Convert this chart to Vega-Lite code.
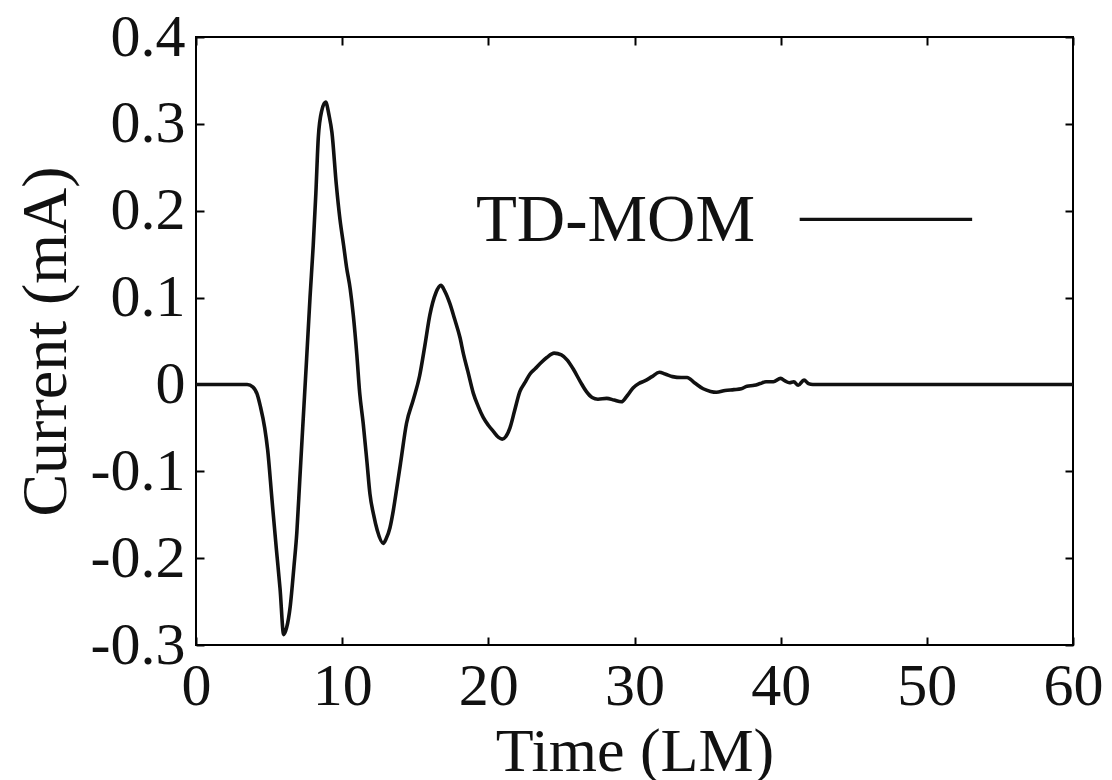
{
  "$schema": "https://vega.github.io/schema/vega-lite/v6.json",
  "width": 877,
  "height": 608,
  "autosize": {"type": "none"},
  "padding": {"left": 196, "top": 37, "right": 39, "bottom": 135},
  "background": "white",
  "config": {
    "view": {"stroke": "black", "strokeWidth": 2},
    "font": "Liberation Serif",
    "axis": {
      "domain": false, "grid": false, "tickColor": "black", "tickWidth": 2, "tickSize": -8,
      "labelFont": "Liberation Serif", "labelFontSize": 60, "labelColor": "#111",
      "titleFont": "Liberation Serif", "titleFontSize": 63, "titleFontWeight": "normal", "titleColor": "#111"
    }
  },
  "datasets": {
    "curve": [
      {"t": 0, "v": 0}, {"t": 3.5, "v": 0}, {"t": 3.9, "v": -0.003}, {"t": 4.2, "v": -0.012},
      {"t": 4.4, "v": -0.025}, {"t": 4.7, "v": -0.05}, {"t": 4.9, "v": -0.075}, {"t": 5.2, "v": -0.133},
      {"t": 5.5, "v": -0.19}, {"t": 5.75, "v": -0.235}, {"t": 6.0, "v": -0.288}, {"t": 6.2, "v": -0.28},
      {"t": 6.45, "v": -0.255}, {"t": 6.7, "v": -0.21}, {"t": 6.9, "v": -0.17}, {"t": 7.1, "v": -0.11},
      {"t": 7.3, "v": -0.05}, {"t": 7.57, "v": 0.03}, {"t": 7.8, "v": 0.1}, {"t": 8.02, "v": 0.16},
      {"t": 8.2, "v": 0.22}, {"t": 8.37, "v": 0.285}, {"t": 8.6, "v": 0.315}, {"t": 8.87, "v": 0.325},
      {"t": 9.1, "v": 0.31}, {"t": 9.3, "v": 0.29}, {"t": 9.6, "v": 0.23}, {"t": 9.85, "v": 0.19},
      {"t": 10.1, "v": 0.16}, {"t": 10.3, "v": 0.135}, {"t": 10.55, "v": 0.11}, {"t": 10.76, "v": 0.08},
      {"t": 11.0, "v": 0.035}, {"t": 11.2, "v": -0.01}, {"t": 11.44, "v": -0.045}, {"t": 11.7, "v": -0.09},
      {"t": 11.9, "v": -0.126}, {"t": 12.15, "v": -0.15}, {"t": 12.4, "v": -0.168}, {"t": 12.81, "v": -0.183},
      {"t": 13.0, "v": -0.178}, {"t": 13.27, "v": -0.165}, {"t": 13.5, "v": -0.145}, {"t": 13.73, "v": -0.12},
      {"t": 14.0, "v": -0.09}, {"t": 14.4, "v": -0.045}, {"t": 14.86, "v": -0.018}, {"t": 15.3, "v": 0.01},
      {"t": 15.66, "v": 0.045}, {"t": 16.0, "v": 0.08}, {"t": 16.4, "v": 0.105}, {"t": 16.76, "v": 0.114},
      {"t": 17.0, "v": 0.108}, {"t": 17.37, "v": 0.093}, {"t": 17.7, "v": 0.075}, {"t": 18.06, "v": 0.054},
      {"t": 18.3, "v": 0.035}, {"t": 18.6, "v": 0.015}, {"t": 18.97, "v": -0.01}, {"t": 19.3, "v": -0.025},
      {"t": 19.65, "v": -0.038}, {"t": 20.0, "v": -0.047}, {"t": 20.34, "v": -0.054}, {"t": 20.7, "v": -0.061},
      {"t": 20.95, "v": -0.063}, {"t": 21.2, "v": -0.06}, {"t": 21.48, "v": -0.05}, {"t": 21.8, "v": -0.03},
      {"t": 22.16, "v": -0.008}, {"t": 22.5, "v": 0.002}, {"t": 22.85, "v": 0.012}, {"t": 23.2, "v": 0.018},
      {"t": 23.6, "v": 0.025}, {"t": 24.0, "v": 0.031}, {"t": 24.5, "v": 0.036}, {"t": 25.0, "v": 0.034},
      {"t": 25.4, "v": 0.028}, {"t": 25.8, "v": 0.018}, {"t": 26.3, "v": 0.003}, {"t": 26.7, "v": -0.008},
      {"t": 27.1, "v": -0.015}, {"t": 27.5, "v": -0.017}, {"t": 28.1, "v": -0.016}, {"t": 28.6, "v": -0.018},
      {"t": 29.1, "v": -0.02}, {"t": 29.5, "v": -0.013}, {"t": 29.9, "v": -0.004}, {"t": 30.3, "v": 0.001},
      {"t": 30.7, "v": 0.004}, {"t": 31.2, "v": 0.009}, {"t": 31.7, "v": 0.014}, {"t": 32.1, "v": 0.012},
      {"t": 32.6, "v": 0.009}, {"t": 33.2, "v": 0.008}, {"t": 33.6, "v": 0.008}, {"t": 34.1, "v": 0.002},
      {"t": 34.7, "v": -0.005}, {"t": 35.2, "v": -0.008}, {"t": 35.6, "v": -0.009}, {"t": 36.2, "v": -0.007},
      {"t": 36.8, "v": -0.006}, {"t": 37.3, "v": -0.005}, {"t": 37.7, "v": -0.002}, {"t": 38.2, "v": -0.001},
      {"t": 38.6, "v": 0.001}, {"t": 39.0, "v": 0.003}, {"t": 39.5, "v": 0.003}, {"t": 40.0, "v": 0.007},
      {"t": 40.3, "v": 0.004}, {"t": 40.6, "v": 0.002}, {"t": 40.9, "v": 0.003}, {"t": 41.2, "v": -0.001},
      {"t": 41.6, "v": 0.005}, {"t": 41.9, "v": 0.001}, {"t": 42.2, "v": 0.0}, {"t": 60, "v": 0}
    ],
    "legendText": [{"t": 19.15, "v": 0.19, "label": "TD-MOM"}],
    "legendLine": [{"t": 41.3, "t2": 53.1, "v": 0.19}]
  },
  "resolve": {"axis": {"x": "independent", "y": "independent"}},
  "layer": [
    {
      "data": {"name": "curve"},
      "mark": {"type": "line", "color": "#111", "strokeWidth": 3.6, "interpolate": "monotone", "clip": true},
      "encoding": {
        "x": {"field": "t", "type": "quantitative", "scale": {"domain": [0, 60], "nice": false},
          "axis": {"values": [0, 10, 20, 30, 40, 50, 60], "title": "Time (LM)", "labelPadding": 20,
            "titleFontSize": 62, "titleY": 125, "titleBaseline": "alphabetic", "labelFlush": false}},
        "y": {"field": "v", "type": "quantitative", "scale": {"domain": [-0.3, 0.4], "nice": false, "zero": false},
          "axis": {"values": [-0.3, -0.2, -0.1, 0, 0.1, 0.2, 0.3, 0.4], "title": "Current (mA)", "labelPadding": 19,
            "labelExpr": "datum.value == 0 ? '0' : replace(format(datum.value, '.1f'), '\u2212', '-')",
            "titleFontSize": 64, "titleX": -131, "titleAngle": -90, "titleBaseline": "alphabetic", "titleAnchor": "middle", "titleAlign": "center", "labelFlush": false}}
      }
    },
    {
      "data": {"name": "curve"},
      "mark": {"type": "line", "opacity": 0},
      "encoding": {
        "x": {"field": "t", "type": "quantitative", "scale": {"domain": [0, 60], "nice": false},
          "axis": {"orient": "top", "values": [0, 10, 20, 30, 40, 50, 60], "labels": false, "title": null}},
        "y": {"field": "v", "type": "quantitative", "scale": {"domain": [-0.3, 0.4], "nice": false, "zero": false},
          "axis": {"orient": "right", "values": [-0.3, -0.2, -0.1, 0, 0.1, 0.2, 0.3, 0.4], "labels": false, "title": null}}
      }
    },
    {
      "data": {"name": "legendText"},
      "mark": {"type": "text", "font": "Liberation Serif", "fontSize": 67, "color": "#111", "align": "left", "baseline": "middle", "dy": 2},
      "encoding": {
        "x": {"field": "t", "type": "quantitative", "axis": null},
        "y": {"field": "v", "type": "quantitative", "axis": null},
        "text": {"field": "label"}
      }
    },
    {
      "data": {"name": "legendLine"},
      "mark": {"type": "rule", "color": "#111", "strokeWidth": 3.4},
      "encoding": {
        "x": {"field": "t", "type": "quantitative", "axis": null},
        "x2": {"field": "t2"},
        "y": {"field": "v", "type": "quantitative", "axis": null}
      }
    }
  ]
}
